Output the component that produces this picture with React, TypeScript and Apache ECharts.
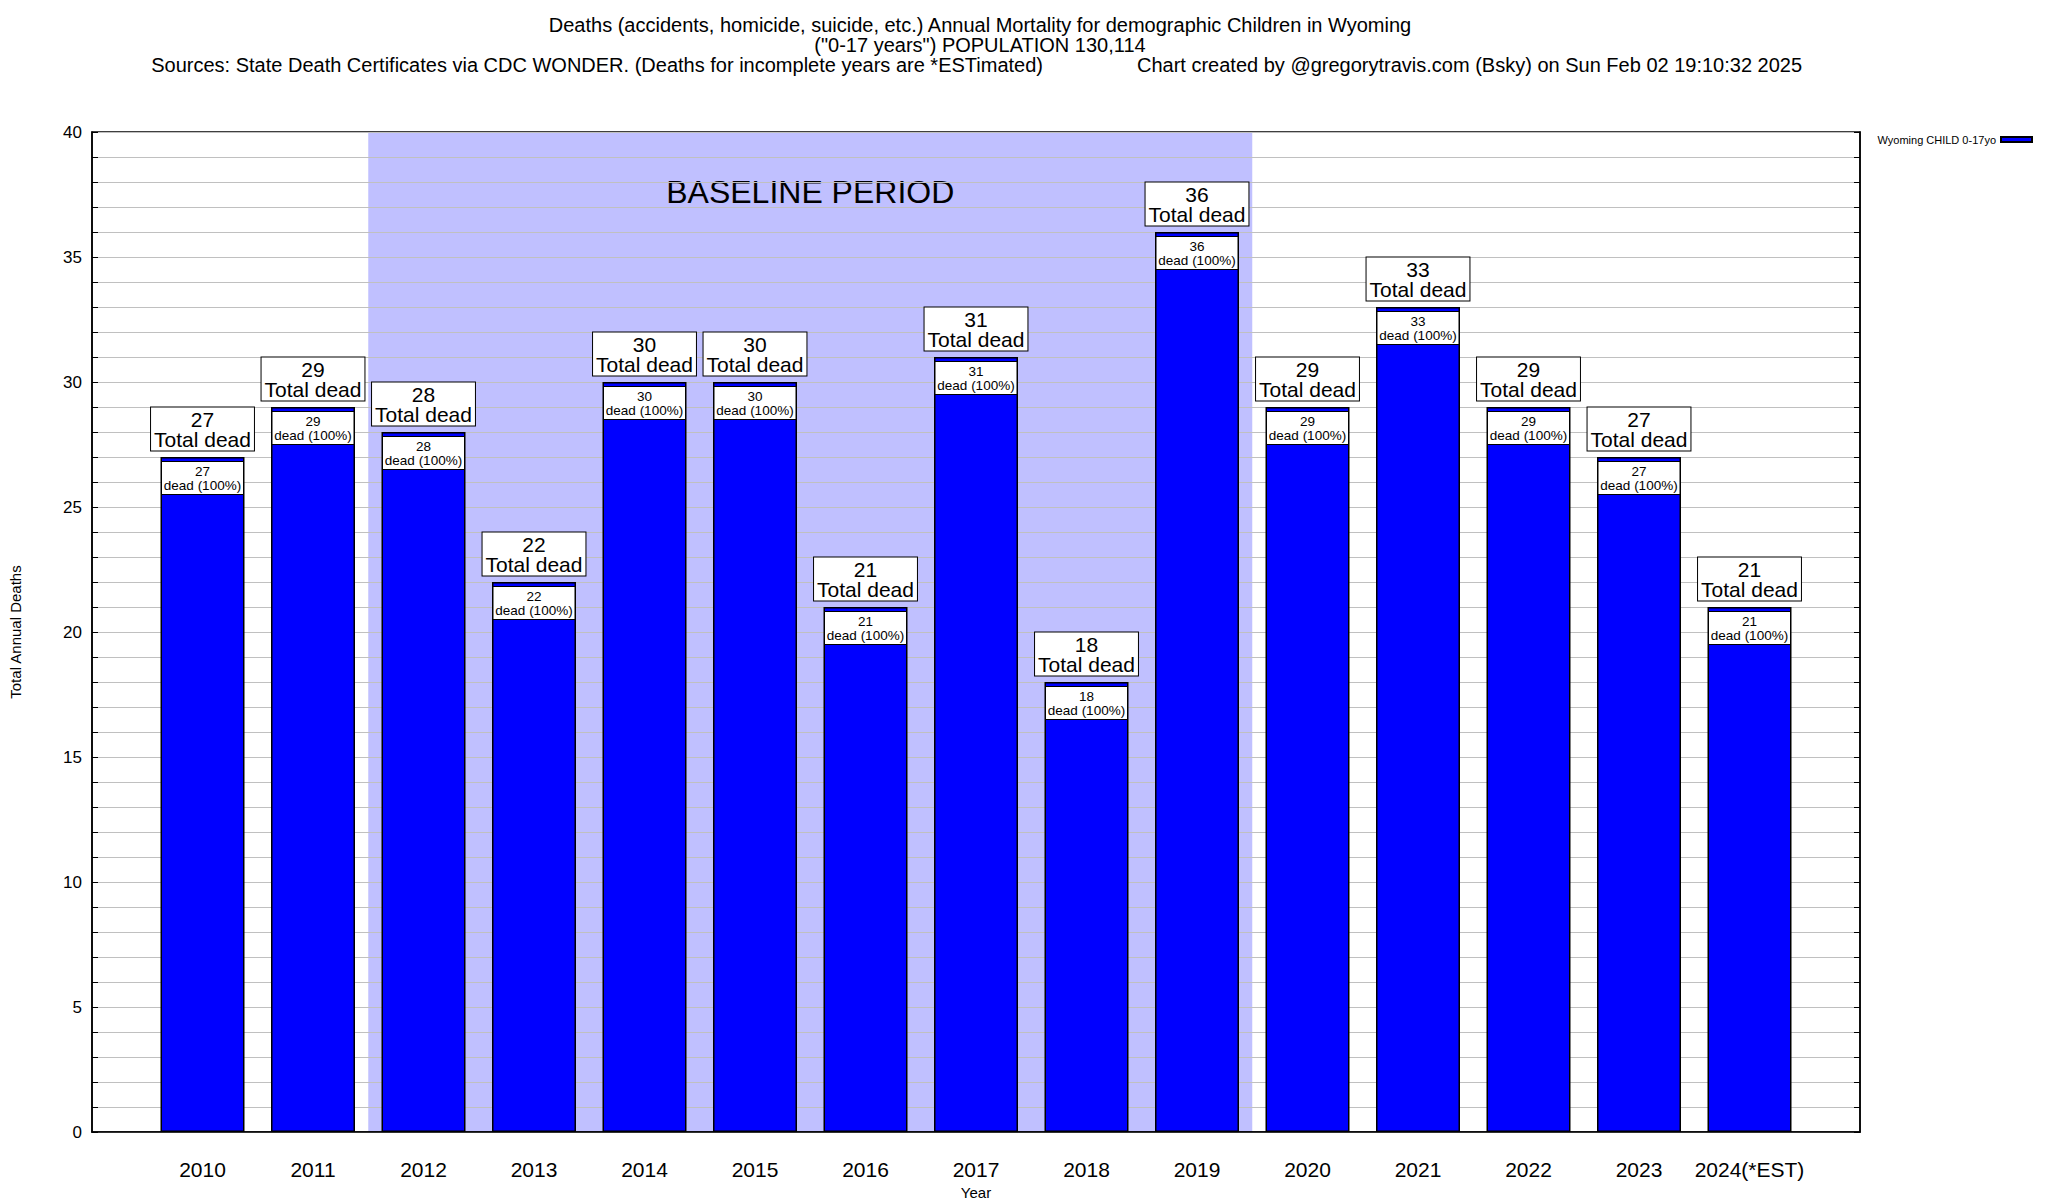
import React, { useEffect, useRef } from "react";
import * as echarts from "echarts";

const years = [2010, 2011, 2012, 2013, 2014, 2015, 2016, 2017, 2018, 2019, 2020, 2021, 2022, 2023, 2024];
const yearLabels = ["2010", "2011", "2012", "2013", "2014", "2015", "2016", "2017", "2018", "2019", "2020", "2021", "2022", "2023", "2024(*EST)"];
const deaths = [27, 29, 28, 22, 30, 30, 21, 31, 18, 36, 29, 33, 29, 27, 21];
const baselinePeriod = [[2011.5, 2019.5]];
const seriesName = "Wyoming CHILD 0-17yo";
const titleLine1 = "Deaths (accidents, homicide, suicide, etc.) Annual Mortality for demographic Children in Wyoming";
const titleLine2 = '("0-17 years") POPULATION 130,114';
const titleLine3a = "Sources: State Death Certificates via CDC WONDER. (Deaths for incomplete years are *ESTimated)";
const titleLine3b = "Chart created by @gregorytravis.com (Bsky) on Sun Feb 02 19:10:32 2025";

const FONT = "'Liberation Sans', Arial, Helvetica, sans-serif";

export default function App() {
  const ref = useRef<HTMLDivElement>(null);
  useEffect(() => {
    document.body.style.margin = "0";
    if (!ref.current) return;
    const chart = echarts.init(ref.current, undefined, { renderer: "svg" });
    const barData = years.map((y, i) => [y, deaths[i]]);
    const txt = (text: string, x: number, y: number, align: string, size = 20) => ({
      type: "text",
      x,
      y,
      style: {
        text,
        fontSize: size,
        fontFamily: FONT,
        fill: "#000",
        align,
        verticalAlign: "middle",
        textAlign: align,
        textVerticalAlign: "middle",
      },
    });
    chart.setOption({
      animation: false,
      backgroundColor: "#fff",
      textStyle: { fontFamily: FONT },
      graphic: [
        txt(titleLine1, 980, 25, "center"),
        txt(titleLine2, 980, 45, "center"),
        txt(titleLine3a, 1043, 65, "right"),
        txt(titleLine3b, 1137, 65, "left"),
      ],
      legend: {
        data: [seriesName],
        right: 10,
        top: 129,
        align: "right",
        itemWidth: 31,
        itemHeight: 5,
        itemGap: 6,
        textStyle: { fontSize: 11, fontFamily: FONT, color: "#000" },
        icon: "rect",
      },
      grid: {
        left: 92,
        right: 188,
        top: 132,
        bottom: 68,
        show: true,
        borderColor: "#000",
        borderWidth: 1.5,
        backgroundColor: "transparent",
        containLabel: false,
        outerBoundsMode: "none",
      },
      xAxis: {
        type: "value",
        min: 2009,
        max: 2025,
        interval: 1,
        name: "Year",
        nameLocation: "middle",
        nameGap: 44,
        nameTextStyle: { fontSize: 15, color: "#000", fontFamily: FONT },
        axisLine: { show: true, lineStyle: { color: "#000", width: 1.5 } },
        axisTick: { show: false },
        splitLine: { show: false },
        axisLabel: {
          fontSize: 21,
          color: "#000",
          margin: 27,
          fontFamily: FONT,
          showMinLabel: true,
          showMaxLabel: true,
          formatter: (v: number) => {
            const idx = years.indexOf(Math.round(v));
            return idx >= 0 && Math.abs(v - years[idx]) < 1e-6 ? yearLabels[idx] : "";
          },
        },
      },
      yAxis: [
        {
          type: "value",
          min: 0,
          max: 40,
          interval: 1,
          name: "Total Annual Deaths",
          nameLocation: "middle",
          nameGap: 69,
          nameRotate: 90,
          nameTextStyle: { fontSize: 15, color: "#000", fontFamily: FONT },
          axisLine: { show: true, lineStyle: { color: "#000", width: 1.5 } },
          axisTick: { show: true, inside: true, length: 6, lineStyle: { color: "#000" } },
          splitLine: { show: true, lineStyle: { color: "#c0c0c0", width: 1 } },
          axisLabel: {
            fontSize: 17,
            color: "#000",
            margin: 10,
            fontFamily: FONT,
            formatter: (v: number) => (v % 5 === 0 ? String(v) : ""),
          },
        },
        {
          type: "value",
          min: 0,
          max: 40,
          interval: 1,
          position: "right",
          axisLine: { show: true, lineStyle: { color: "#000", width: 1.5 } },
          axisTick: { show: true, inside: true, length: 6, lineStyle: { color: "#000" } },
          splitLine: { show: false },
          axisLabel: { show: false },
        },
      ],
      series: [
        {
          type: "custom",
          name: "baseline",
          z: -1,
          silent: true,
          data: baselinePeriod,
          encode: { x: [0, 1] },
          renderItem: (params: any, api: any) => {
            const a = api.coord([api.value(0), 40]);
            const b = api.coord([api.value(1), 0]);
            const mid = api.coord([(api.value(0) + api.value(1)) / 2, 37.6]);
            return {
              type: "group",
              children: [
                {
                  type: "rect",
                  shape: { x: a[0], y: a[1], width: b[0] - a[0], height: b[1] - a[1] },
                  style: { fill: "#c0c0ff" },
                },
                {
                  type: "text",
                  x: mid[0],
                  y: mid[1],
                  style: {
                    text: "BASELINE PERIOD",
                    fontSize: 32,
                    fontFamily: FONT,
                    fill: "#000",
                    align: "center",
                    verticalAlign: "middle",
                    textAlign: "center",
                    textVerticalAlign: "middle",
                  },
                },
              ],
            };
          },
        },
        {
          type: "bar",
          name: seriesName,
          data: barData,
          barWidth: 84,
          z: 3,
          itemStyle: { color: "#0000ff", borderColor: "#000", borderWidth: 1.5 },
          label: {
            show: true,
            position: "insideTop",
            distance: 5,
            formatter: (p: any) => `${p.value[1]}\ndead (100%)`,
            fontSize: 13.5,
            lineHeight: 14,
            color: "#000",
            fontFamily: FONT,
            backgroundColor: "#fff",
            borderColor: "#000",
            borderWidth: 1,
            padding: [2, 2, 2, 2],
            width: 77,
            align: "center",
          },
        },
        {
          type: "scatter",
          name: "totals",
          data: barData,
          symbolSize: 1,
          z: 4,
          silent: true,
          itemStyle: { color: "transparent", opacity: 1 },
          label: {
            show: true,
            position: "top",
            distance: 6,
            formatter: (p: any) => `${p.value[1]}\nTotal dead`,
            fontSize: 21,
            lineHeight: 20,
            color: "#000",
            fontFamily: FONT,
            backgroundColor: "#fff",
            borderColor: "#000",
            borderWidth: 1,
            padding: [2, 3, 1, 3],
            align: "center",
          },
        },
      ],
    });
    return () => chart.dispose();
  }, []);
  return <div ref={ref} style={{ width: 2048, height: 1200 }} />;
}
